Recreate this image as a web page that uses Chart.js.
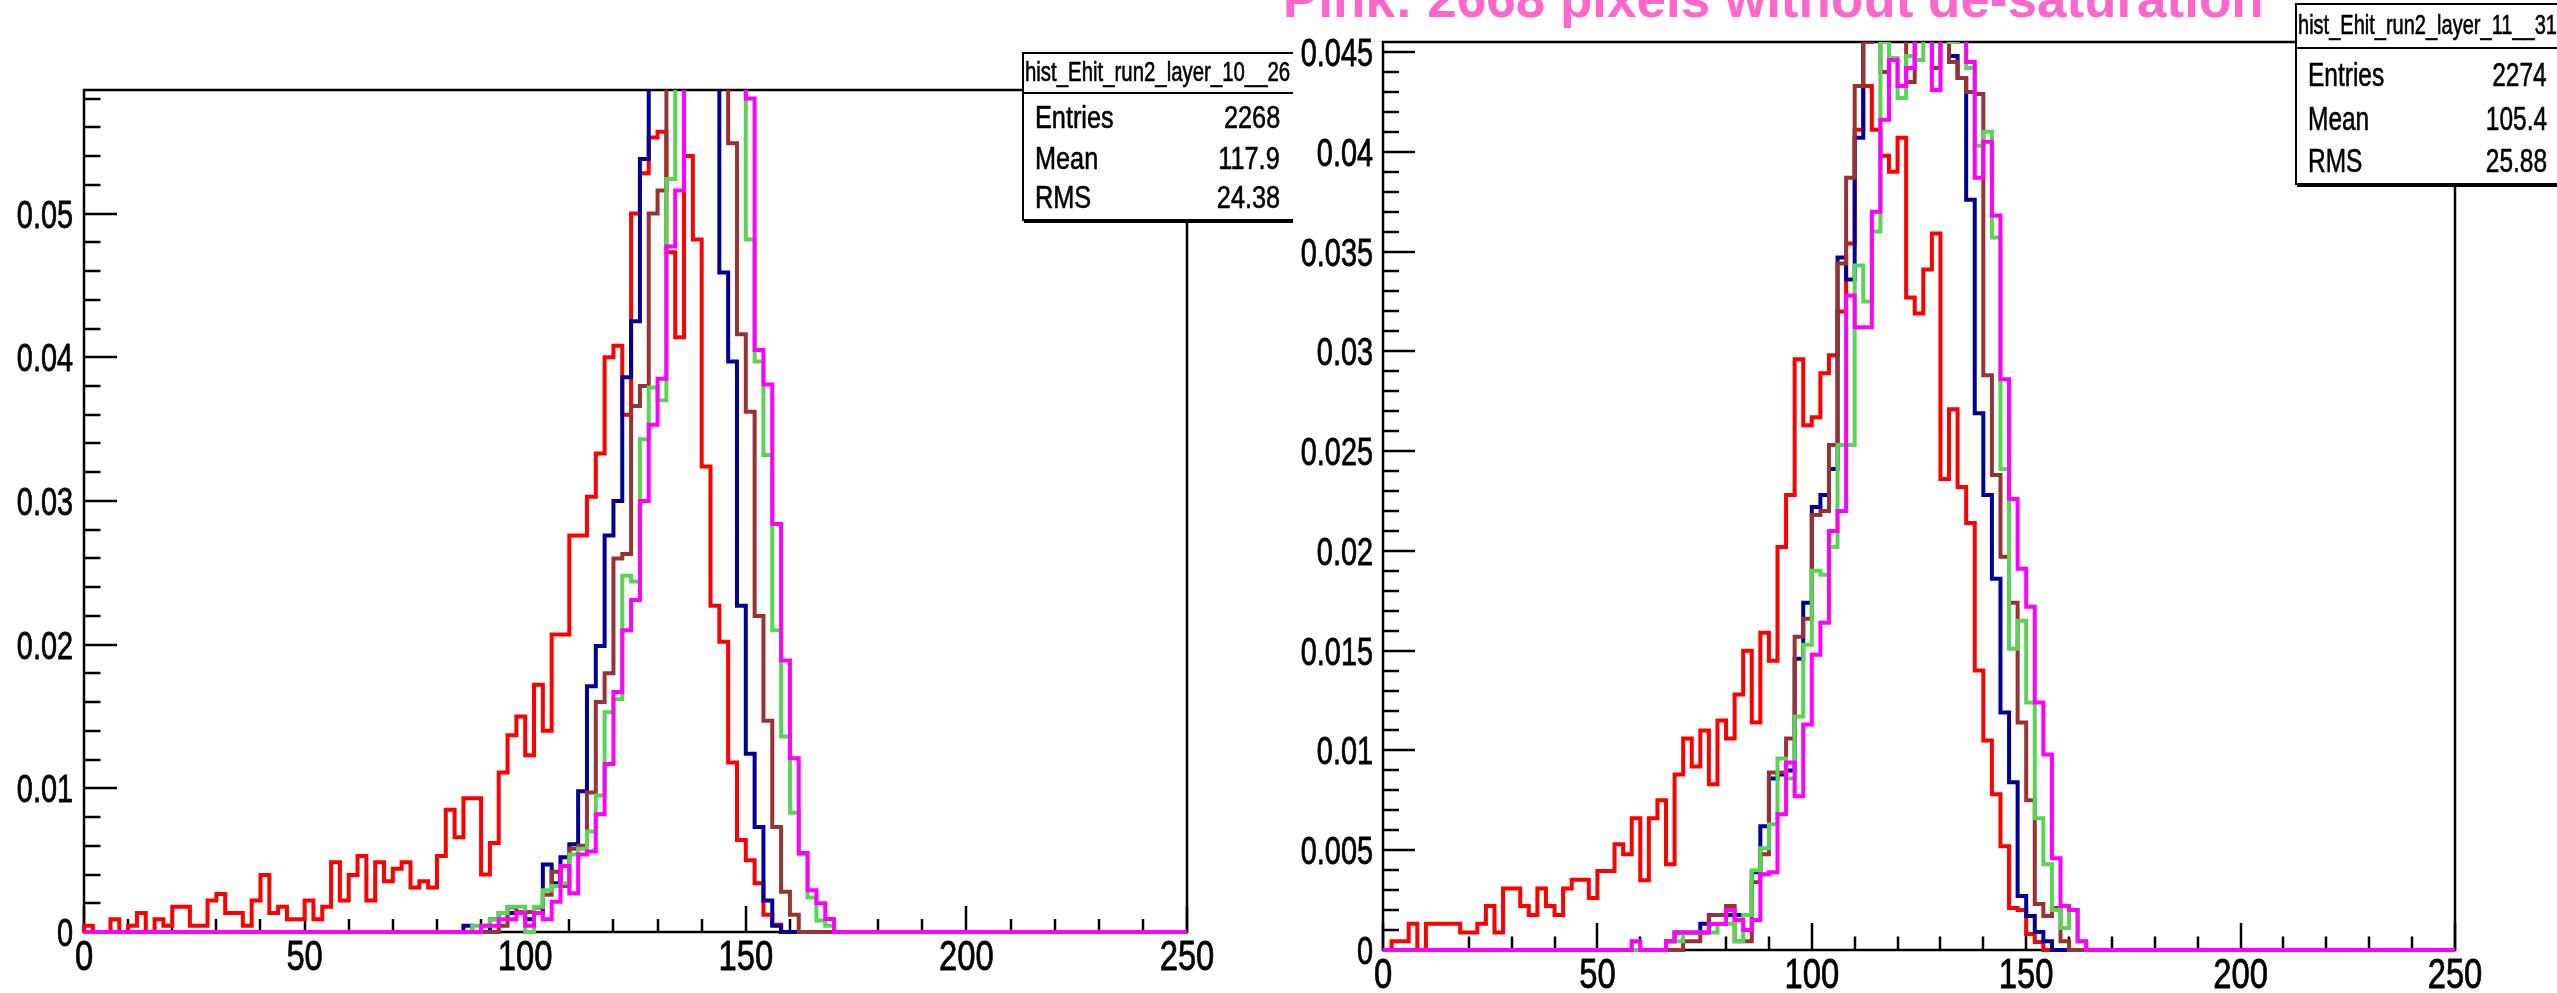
<!DOCTYPE html>
<html>
<head>
<meta charset="utf-8">
<title>hist_Ehit_run2 – layers 10 and 11</title>
<script src="https://cdn.jsdelivr.net/npm/chart.js@4.4.1/dist/chart.umd.min.js"></script>
<style>
  html, body { margin: 0; padding: 0; background: #fff; }
  body { width: 2557px; height: 993px; position: relative; overflow: hidden;
         font-family: "Liberation Sans", Arial, Helvetica, sans-serif; color: #000; }
  .pad { position: absolute; top: 0; height: 993px; overflow: hidden; }
  .pad canvas { position: absolute; left: 0; top: 0; }
  .stats { position: absolute; background: #fff; border: 2px solid #000;
           box-shadow: 2px 2px 0 #000; box-sizing: border-box; }
  .stats .t { position: absolute; white-space: nowrap; height: 40px; line-height: 40px;
              -webkit-text-stroke: 0.6px #000; }
  .stats .l { transform-origin: left center; }
  .stats .v { transform-origin: right center; text-align: right; }
  .stats .sep { position: absolute; left: 0; right: 0; height: 2px; background: #000; }
  #headline { position: absolute; left: 1283px; top: -28px; white-space: nowrap;
              font: bold 53px/53px "Liberation Sans", Arial, sans-serif; color: #ff66cc; }
</style>
</head>
<body>
<div id="headline">Pink: 2668 pixels without de-saturation</div>

<div class="pad" style="left:0; width:1293px;">
  <canvas id="layer10" width="1293" height="993"></canvas>
  <div class="stats" style="left:1022px; top:52px; width:273px; height:169px;">
    <div class="t l" style="left:1px; top:-2px; font-size:27px; transform:scaleX(0.755);">hist_Ehit_run2_layer_10__26</div>
    <div class="sep" style="top:38px;"></div>
    <div class="t l" style="left:11px; top:43px; font-size:32px; transform:scaleX(0.79);">Entries</div>
    <div class="t v" style="right:13px; top:43px; font-size:32px; transform:scaleX(0.79);">2268</div>
    <div class="t l" style="left:11px; top:84px; font-size:32px; transform:scaleX(0.79);">Mean</div>
    <div class="t v" style="right:13px; top:84px; font-size:32px; transform:scaleX(0.79);">117.9</div>
    <div class="t l" style="left:11px; top:123px; font-size:32px; transform:scaleX(0.79);">RMS</div>
    <div class="t v" style="right:13px; top:123px; font-size:32px; transform:scaleX(0.79);">24.38</div>
  </div>
</div>

<div class="pad" style="left:1293px; width:1264px;">
  <canvas id="layer11" width="1264" height="993"></canvas>
  <div class="stats" style="left:1002px; top:3px; width:264px; height:182px;">
    <div class="t l" style="left:1px; top:0px; font-size:28px; transform:scaleX(0.715);">hist_Ehit_run2_layer_11__31</div>
    <div class="sep" style="top:42px;"></div>
    <div class="t l" style="left:11px; top:49px; font-size:34px; transform:scaleX(0.72);">Entries</div>
    <div class="t v" style="right:10px; top:49px; font-size:34px; transform:scaleX(0.72);">2274</div>
    <div class="t l" style="left:11px; top:93px; font-size:34px; transform:scaleX(0.72);">Mean</div>
    <div class="t v" style="right:10px; top:93px; font-size:34px; transform:scaleX(0.72);">105.4</div>
    <div class="t l" style="left:11px; top:135px; font-size:34px; transform:scaleX(0.72);">RMS</div>
    <div class="t v" style="right:10px; top:135px; font-size:34px; transform:scaleX(0.72);">25.88</div>
  </div>
</div>

<script>
// ---- Binning shared by both histograms ----
const X_MIN = 0, X_MAX = 250, BIN_WIDTH = 2, N_BINS = 125;

// ---- Axis ticks and labels ----
const xTickValues = [0, 50, 100, 150, 200, 250];
const xTickLabels = ['0', '50', '100', '150', '200', '250'];
const xMinorStep = 10;

const l10YTickValues = [0, 0.01, 0.02, 0.03, 0.04, 0.05];
const l10YTickLabels = ['0', '0.01', '0.02', '0.03', '0.04', '0.05'];
const l10YMinorStep = 0.002;
const l10YMax = 0.0586;

const l11YTickValues = [0, 0.005, 0.01, 0.015, 0.02, 0.025, 0.03, 0.035, 0.04, 0.045];
const l11YTickLabels = ['0', '0.005', '0.01', '0.015', '0.02', '0.025', '0.03', '0.035', '0.04', '0.045'];
const l11YMinorStep = 0.001;
const l11YMax = 0.0455;

// ---- Bin contents (fraction of entries per 2-unit bin), from bin 0 upward ----
// Layer 10
const l10Red = [
  0.00044, 0, 0, 0.00088, 0, 0.00044, 0.00132, 0, 0.00088, 0.00044,
  0.00176, 0.00176, 0.00044, 0.00044, 0.0022, 0.00265, 0.00132, 0.00132, 0.00044, 0.0022,
  0.00397, 0.00132, 0.00176, 0.00088, 0.00088, 0.0022, 0.00088, 0.00176, 0.00485, 0.0022,
  0.00397, 0.00529, 0.0022, 0.00485, 0.00353, 0.00441, 0.00485, 0.00309, 0.00353, 0.00309,
  0.00529, 0.0085, 0.0066, 0.0093, 0.0093, 0.004, 0.0062, 0.0111, 0.0137, 0.015,
  0.0123, 0.0172, 0.014, 0.0207, 0.0207, 0.0276, 0.0276, 0.0303, 0.0333, 0.040,
  0.0408, 0.036, 0.050, 0.0528, 0.0553, 0.0557, 0.0473, 0.0414, 0.054, 0.0482,
  0.0324, 0.0227, 0.0202, 0.0118, 0.0064, 0.005, 0.0034, 0.0012, 0.0005
];
const l10Blue = [
  0, 0, 0, 0, 0, 0, 0, 0, 0, 0,
  0, 0, 0, 0, 0, 0, 0, 0, 0, 0,
  0, 0, 0, 0, 0, 0, 0, 0, 0, 0,
  0, 0, 0, 0, 0, 0, 0, 0, 0, 0,
  0, 0, 0, 0.00044, 0, 0, 0.00088, 0.00132, 0.00132, 0.00132,
  0.00088, 0.00132, 0.0047, 0.0034, 0.0052, 0.0061, 0.0098, 0.0171, 0.0199, 0.0276,
  0.030, 0.0386, 0.0425, 0.0538, 0.062, 0.070, 0.078, 0.085, 0.086, 0.080,
  0.074, 0.068, 0.0459, 0.0397, 0.0227, 0.0124, 0.0073, 0.0022, 0.00044
];
const l10Brown = [
  0, 0, 0, 0, 0, 0, 0, 0, 0, 0,
  0, 0, 0, 0, 0, 0, 0, 0, 0, 0,
  0, 0, 0, 0, 0, 0, 0, 0, 0, 0,
  0, 0, 0, 0, 0, 0, 0, 0, 0, 0,
  0, 0, 0, 0, 0, 0, 0, 0.00044, 0.0017, 0.0014,
  0.0014, 0.0017, 0.0026, 0.0042, 0.0032, 0.0058, 0.006, 0.0097, 0.016, 0.018,
  0.026, 0.0263, 0.0366, 0.038, 0.050, 0.0516, 0.060, 0.068, 0.076, 0.082,
  0.081, 0.078, 0.072, 0.0549, 0.0416, 0.0362, 0.022, 0.0147, 0.0073, 0.0028,
  0.0012
];
const l10Green = [
  0, 0, 0, 0, 0, 0, 0, 0, 0, 0,
  0, 0, 0, 0, 0, 0, 0, 0, 0, 0,
  0, 0, 0, 0, 0, 0, 0, 0, 0, 0,
  0, 0, 0, 0, 0, 0, 0, 0, 0, 0,
  0, 0, 0, 0, 0.00044, 0.00044, 0.00088, 0.00132, 0.00176, 0.00176,
  0, 0.00176, 0.0029, 0.0032, 0.0034, 0.0054, 0.0058, 0.0070, 0.0095, 0.0153,
  0.0162, 0.0248, 0.0244, 0.0343, 0.0379, 0.037, 0.0524, 0.060, 0.066, 0.071,
  0.075, 0.074, 0.070, 0.065, 0.060, 0.0482, 0.0397, 0.0332, 0.021, 0.0136,
  0.0083, 0.0054, 0.0024, 0.0008, 0.00044
];
const l10Magenta = [
  0, 0, 0, 0, 0, 0, 0, 0, 0, 0,
  0, 0, 0, 0, 0, 0, 0, 0, 0, 0,
  0, 0, 0, 0, 0, 0, 0, 0, 0, 0,
  0, 0, 0, 0, 0, 0, 0, 0, 0, 0,
  0, 0, 0, 0, 0, 0.00044, 0.00044, 0.00088, 0.00088, 0.00132,
  0.00044, 0.00132, 0.00088, 0.0021, 0.0046, 0.0027, 0.0054, 0.0056, 0.0082, 0.0117,
  0.0167, 0.021, 0.0231, 0.030, 0.0353, 0.0385, 0.0477, 0.0516, 0.060, 0.066,
  0.072, 0.075, 0.073, 0.068, 0.063, 0.058, 0.0405, 0.0381, 0.0284, 0.0189,
  0.0121, 0.0055, 0.0029, 0.002, 0.0009
];

// Layer 11
const l11Red = [
  0, 0.00044, 0.00044, 0.00132, 0, 0.00132, 0.00132, 0.00132, 0.00132, 0.00088,
  0.00088, 0.00132, 0.0022, 0.00088, 0.00308, 0.00308, 0.0022, 0.00176, 0.00308, 0.0022,
  0.00176, 0.00308, 0.00352, 0.00352, 0.0026, 0.00396, 0.00396, 0.0053, 0.0048, 0.0066,
  0.0035, 0.0066, 0.0075, 0.0043, 0.0088, 0.0106, 0.0092, 0.011, 0.0083, 0.0115,
  0.0106, 0.0128, 0.015, 0.0114, 0.0159, 0.0145, 0.0202, 0.0228, 0.0296, 0.0263,
  0.0267, 0.0289, 0.0298, 0.032, 0.0354, 0.0411, 0.0433, 0.0411, 0.0398, 0.039,
  0.0407, 0.0327, 0.0319, 0.0341, 0.0359, 0.0236, 0.0271, 0.0232, 0.0214, 0.014,
  0.0105, 0.0078, 0.0052, 0.0021, 0.002, 0.0008, 0.0004
];
const l11Blue = [
  0, 0, 0, 0, 0, 0, 0, 0, 0, 0,
  0, 0, 0, 0, 0, 0, 0, 0, 0, 0,
  0, 0, 0, 0, 0, 0, 0, 0, 0, 0,
  0, 0, 0, 0.00044, 0.00088, 0.00088, 0.00088, 0.00132, 0.00176, 0.00176,
  0.00176, 0.00176, 0.00176, 0.0039, 0.0062, 0.0086, 0.0088, 0.009, 0.0146, 0.0174,
  0.0222, 0.0228, 0.0241, 0.0347, 0.0336, 0.0407, 0.047, 0.050, 0.053, 0.055,
  0.056, 0.055, 0.054, 0.052, 0.050, 0.048, 0.0448, 0.0437, 0.0376, 0.0269,
  0.0228, 0.0186, 0.0119, 0.0084, 0.0027, 0.0017, 0.0009, 0.00044
];
const l11Brown = [
  0, 0, 0, 0, 0, 0, 0, 0, 0, 0,
  0, 0, 0, 0, 0, 0, 0, 0, 0, 0,
  0, 0, 0, 0, 0, 0, 0, 0, 0, 0,
  0, 0, 0, 0, 0, 0.00044, 0.00044, 0.00088, 0.00176, 0.00176,
  0.0022, 0.00044, 0.00044, 0.0034, 0.0048, 0.0089, 0.0089, 0.0106, 0.0157, 0.0166,
  0.0218, 0.022, 0.0253, 0.0344, 0.0387, 0.0433, 0.0455, 0.047, 0.044, 0.046,
  0.048, 0.0435, 0.046, 0.047, 0.0442, 0.0458, 0.0445, 0.0437, 0.043, 0.0429,
  0.0288, 0.0238, 0.0197, 0.0174, 0.0114, 0.0075, 0.0023, 0.0017, 0.0021, 0.00044
];
const l11Green = [
  0, 0, 0, 0, 0, 0, 0, 0, 0, 0,
  0, 0, 0, 0, 0, 0, 0, 0, 0, 0,
  0, 0, 0, 0, 0, 0, 0, 0, 0, 0,
  0, 0, 0, 0.00044, 0.00044, 0.00088, 0.00088, 0.00088, 0.00088, 0.00132,
  0.00132, 0.00044, 0.00176, 0.004, 0.0051, 0.0063, 0.0096, 0.0086, 0.0117, 0.0153,
  0.019, 0.0188, 0.0202, 0.0253, 0.0253, 0.0343, 0.0325, 0.036, 0.0455, 0.0447,
  0.0427, 0.0448, 0.0446, 0.047, 0.0465, 0.046, 0.0455, 0.0468, 0.0442, 0.0403,
  0.041, 0.0357, 0.0241, 0.0151, 0.0165, 0.0124, 0.0066, 0.0043, 0.002, 0.0011,
  0.002, 0.00044
];
const l11Magenta = [
  0, 0, 0, 0, 0, 0, 0, 0, 0, 0,
  0, 0, 0, 0, 0, 0, 0, 0, 0, 0,
  0, 0, 0, 0, 0, 0, 0, 0, 0, 0.00044,
  0, 0, 0, 0.00044, 0.00088, 0.00088, 0.00088, 0.00088, 0.0013, 0.0013,
  0.002, 0.0015, 0.001, 0.0015, 0.0038, 0.0039, 0.0068, 0.0094, 0.0077, 0.0113,
  0.0148, 0.0164, 0.021, 0.022, 0.0328, 0.0312, 0.0312, 0.037, 0.0416, 0.0446,
  0.0433, 0.0442, 0.047, 0.048, 0.0431, 0.047, 0.048, 0.047, 0.0445, 0.0387,
  0.0405, 0.0368, 0.0286, 0.0226, 0.0191, 0.0172, 0.0124, 0.0098, 0.0046, 0.0022,
  0.002, 0.00044
];

// ---- Line colours (ROOT palette) ----
const RED = '#ff0000', NAVY = '#000099', BROWN = '#993333', GREEN = '#59d454', MAGENTA = '#ff00ff';
const LINE_W = 4;
const FONT = '"Liberation Sans", Arial, Helvetica, sans-serif';

// Histogram outline: a stepped line through the left edge of every bin,
// closed down to zero at both ends of the axis.
function stepPoints(values) {
  const pts = [{ x: X_MIN, y: 0 }];
  for (let i = 0; i < N_BINS; i++) {
    pts.push({ x: X_MIN + i * BIN_WIDTH, y: values[i] || 0 });
  }
  pts.push({ x: X_MAX, y: values[N_BINS - 1] || 0 });
  pts.push({ x: X_MAX, y: 0 });
  return pts;
}

function histDataset(label, values, color) {
  return {
    label, data: stepPoints(values), borderColor: color, borderWidth: LINE_W,
    pointRadius: 0, stepped: 'before', fill: false, tension: 0,
    borderJoinStyle: 'miter', borderCapStyle: 'butt',
    clip: { left: 3, right: 3, top: 0, bottom: 3 }
  };
}

// Condensed label: text squeezed horizontally and lightly outlined.
function drawLabel(ctx, text, x, y, squeeze) {
  ctx.save();
  ctx.translate(x, y);
  ctx.scale(squeeze, 1);
  ctx.fillText(text, 0, 0);
  ctx.strokeText(text, 0, 0);
  ctx.restore();
}

// ROOT-style frame: box around the plot area, ticks pointing inwards,
// tick labels outside the left and bottom edges.
const rootFrame = {
  id: 'rootFrame',
  beforeDatasetsDraw(chart, args, o) {
    const { ctx, chartArea: a, scales: { x, y } } = chart;
    ctx.save();
    ctx.strokeStyle = '#000';
    ctx.fillStyle = '#000';
    ctx.lineWidth = 2.5;
    ctx.strokeRect(a.left, a.top, a.right - a.left, a.bottom - a.top);

    const isMajor = (v, list) => list.some(t => Math.abs(t - v) < 1e-9);
    ctx.beginPath();
    for (let k = 0; X_MIN + k * xMinorStep <= X_MAX + 1e-9; k++) {
      const v = X_MIN + k * xMinorStep;
      const px = Math.round(x.getPixelForValue(v));
      const len = isMajor(v, o.xTicks) ? o.xTickLen : o.xTickLen / 2;
      ctx.moveTo(px, a.bottom);
      ctx.lineTo(px, a.bottom - len);
    }
    for (let k = 0; k * o.yMinor <= o.yMax + 1e-12; k++) {
      const v = k * o.yMinor;
      const py = Math.round(y.getPixelForValue(v));
      const len = isMajor(v, o.yTicks) ? o.yTickLen : o.yTickLen / 2;
      ctx.moveTo(a.left, py);
      ctx.lineTo(a.left + len, py);
    }
    ctx.stroke();

    ctx.lineWidth = 0.8;
    ctx.lineJoin = 'round';
    // x labels
    ctx.font = o.xFont + 'px ' + FONT;
    ctx.textAlign = 'center';
    ctx.textBaseline = 'alphabetic';
    o.xTicks.forEach((v, i) => {
      drawLabel(ctx, o.xLabels[i], x.getPixelForValue(v), a.bottom + o.xLabelDrop, o.xSqueeze);
    });
    // y labels
    ctx.font = o.yFont + 'px ' + FONT;
    ctx.textAlign = 'right';
    o.yTicks.forEach((v, i) => {
      drawLabel(ctx, o.yLabels[i], a.left - o.yLabelGap, y.getPixelForValue(v) + 0.358 * o.yFont, o.ySqueeze);
    });
    ctx.restore();
  }
};

function makeHistChart(canvasId, sets, yMax, padding, frame) {
  return new Chart(document.getElementById(canvasId), {
    type: 'line',
    data: {
      // first dataset is painted last, so magenta ends up on top
      datasets: [
        histDataset('magenta', sets.magenta, MAGENTA),
        histDataset('green', sets.green, GREEN),
        histDataset('brown', sets.brown, BROWN),
        histDataset('blue', sets.blue, NAVY),
        histDataset('red', sets.red, RED)
      ]
    },
    options: {
      responsive: false, animation: false, devicePixelRatio: 1, parsing: false,
      events: [],
      layout: { padding },
      scales: {
        x: { type: 'linear', min: X_MIN, max: X_MAX, display: false },
        y: { type: 'linear', min: 0, max: yMax, display: false }
      },
      plugins: {
        legend: { display: false }, tooltip: { enabled: false }, title: { display: false },
        rootFrame: Object.assign({ yMax }, frame)
      }
    },
    plugins: [rootFrame]
  });
}

makeHistChart('layer10',
  { red: l10Red, blue: l10Blue, brown: l10Brown, green: l10Green, magenta: l10Magenta },
  l10YMax,
  { left: 84, top: 90, right: 106, bottom: 61 },
  { xTicks: xTickValues, xLabels: xTickLabels, xTickLen: 26, xFont: 42, xLabelDrop: 38, xSqueeze: 0.78,
    yTicks: l10YTickValues, yLabels: l10YTickLabels, yMinor: l10YMinorStep, yTickLen: 33,
    yFont: 39, yLabelGap: 11, ySqueeze: 0.74 });

makeHistChart('layer11',
  { red: l11Red, blue: l11Blue, brown: l11Brown, green: l11Green, magenta: l11Magenta },
  l11YMax,
  { left: 90, top: 42, right: 102, bottom: 43 },
  { xTicks: xTickValues, xLabels: xTickLabels, xTickLen: 27, xFont: 42, xLabelDrop: 38, xSqueeze: 0.78,
    yTicks: l11YTickValues, yLabels: l11YTickLabels, yMinor: l11YMinorStep, yTickLen: 32,
    yFont: 39, yLabelGap: 10, ySqueeze: 0.74 });
</script>
</body>
</html>
